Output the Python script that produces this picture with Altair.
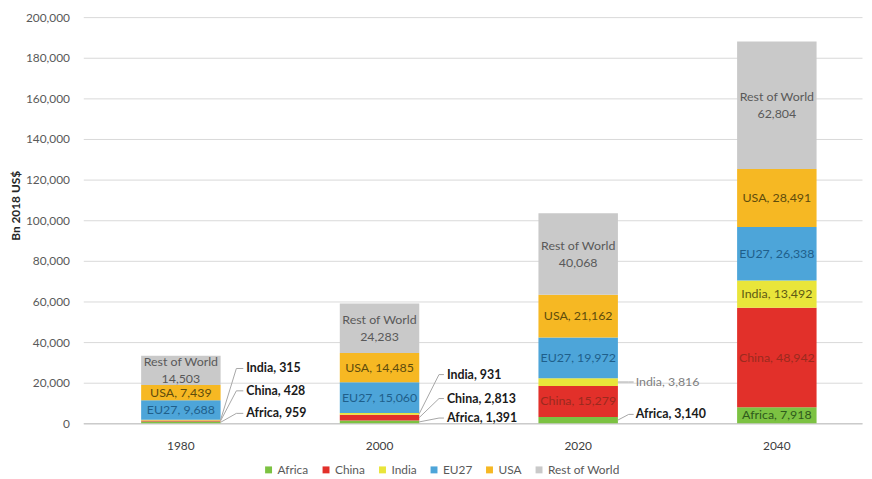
import altair as alt
import pandas as pd

# ---------------- data ----------------
years = ["1980", "2000", "2020", "2040"]
series = ["Africa", "China", "India", "EU27", "USA", "Rest of World"]
africa = [959, 1391, 3140, 7918]
china = [428, 2813, 15279, 48942]
india = [315, 931, 3816, 13492]
eu27 = [9688, 15060, 19972, 26338]
usa = [7439, 14485, 21162, 28491]
rest_of_world = [14503, 24283, 40068, 62804]
values = [africa, china, india, eu27, usa, rest_of_world]

y_ticks = list(range(0, 200001, 20000))

# segments labelled inside the bar; the rest get callouts
inside = {
    "1980": ["EU27", "USA", "Rest of World"],
    "2000": ["EU27", "USA", "Rest of World"],
    "2020": ["China", "EU27", "USA", "Rest of World"],
    "2040": series,
}
# callouts: (year, series, level of label in data units)
callouts = [
    ("1980", "India", 27000), ("1980", "China", 16000), ("1980", "Africa", 4900),
    ("2000", "India", 24000), ("2000", "China", 12200), ("2000", "Africa", 2600),
    ("2020", "India", None), ("2020", "Africa", 4400),
]

# ---------------- styles ----------------
bar_colors = ["#7CC242", "#E2302A", "#E9E53A", "#4DA5D9", "#F6B823", "#C9C9C9"]
text_colors = ["#2F5A1C", "#9A2A1E", "#5E5A14", "#1F5F8B", "#5E4C0C", "#595959"]
FONT = "Lato"
# per-year callout geometry in px from band centre: (diagonal end, horizontal end, label start)
callout_geom = {"1980": (56, 63, 66), "2000": (60, 65, 68), "2020": (51, 56, 58)}
HALF = 40

rows = []
for yi, yr in enumerate(years):
    start = 0
    for si, s in enumerate(series):
        v = values[si][yi]
        end = start + v
        if s == "Rest of World":
            lab = f"Rest of World\n{v:,}"
        else:
            lab = f"{s}, {v:,}"
        rows.append(dict(year=yr, series=s, order=si, value=v, start=start, end=end,
                         mid=(start + end) / 2, label=lab, tcolor=text_colors[si],
                         inside=s in inside[yr], row=(s == "Rest of World")))
        start = end
df = pd.DataFrame(rows)

crow = []
for yr, s, ly in callouts:
    r = df[(df.year == yr) & (df.series == s)].iloc[0]
    grey = (yr == "2020" and s == "India")
    crow.append(dict(year=yr, seg=r["mid"], ly=(r["mid"] if ly is None else ly),
                     text=f"{s}, {r['value']:,}",
                     color=("#7F7F7F" if grey else "#1A1A1A"),
                     bold=(not grey)))
dc = pd.DataFrame(crow)

xscale = alt.Scale(domain=years, paddingInner=0.6, paddingOuter=0.26, align=0.56)
yscale = alt.Scale(domain=[0, 200000], nice=False)
x_axis = alt.Axis(title=None, labelAngle=0, ticks=False, labelPadding=17,
                  labelColor="#404040", labelFontSize=12, labelFont=FONT,
                  domainColor="#BFBFBF", domainWidth=1)
y_axis = alt.Axis(title="Bn 2018 US$", values=y_ticks,
                  labelExpr="format(datum.value, ',')", ticks=False,
                  domain=False, labelPadding=14, labelColor="#595959",
                  labelFontSize=12, labelFont=FONT, gridColor="#D9D9D9",
                  titleFont=FONT, titleFontSize=12, titleFontWeight="bold",
                  titleColor="#262626", titlePadding=3, titleY=190)


def xpos(band=True):
    if band:
        return alt.X("year:N", sort=years, scale=xscale, axis=x_axis, bandPosition=0.5)
    return alt.X("year:N", sort=years, scale=xscale, axis=x_axis)


def ypos(field):
    return alt.Y(field, scale=yscale, axis=y_axis)


bars = alt.Chart(df).mark_bar().encode(
    x=xpos(False),
    y=ypos("start:Q"),
    y2="end:Q",
    color=alt.Color("series:N", sort=series,
                    scale=alt.Scale(domain=series, range=bar_colors),
                    legend=alt.Legend(title=None, orient="none", direction="horizontal",
                                      legendX=181, legendY=451, symbolType="square",
                                      symbolSize=49, symbolStrokeWidth=0,
                                      labelFontSize=12, labelFont=FONT,
                                      labelColor="#595959", columnPadding=11,
                                      labelOffset=3)),
)

texts = alt.Chart(df).transform_filter("datum.inside && !datum.row").mark_text(
    font=FONT, fontSize=12.5, baseline="middle"
).encode(
    x=xpos(), y=ypos("mid:Q"), text="label:N",
    color=alt.Color("tcolor:N", scale=None),
)
row_texts = alt.Chart(df).transform_filter("datum.row").mark_text(
    font=FONT, fontSize=12.5, baseline="middle", lineBreak="\n", lineHeight=17, dy=-8
).encode(
    x=xpos(), y=ypos("mid:Q"), text="label:N",
    color=alt.Color("tcolor:N", scale=None),
)

layers = [bars, texts, row_texts]
for yr, (d_end, h_end, lab) in callout_geom.items():
    sub = dc[dc.year == yr]
    diag = alt.Chart(sub).mark_rule(color="#A6A6A6", strokeWidth=1,
                                    xOffset=HALF, x2Offset=d_end).encode(
        x=xpos(), x2=alt.X2("year:N", bandPosition=0.5),
        y=ypos("seg:Q"), y2="ly:Q")
    horiz = alt.Chart(sub).mark_rule(color="#A6A6A6", strokeWidth=1,
                                     xOffset=d_end, x2Offset=h_end).encode(
        x=xpos(), x2=alt.X2("year:N", bandPosition=0.5),
        y=ypos("ly:Q"))
    layers += [diag, horiz]
    for is_bold in (True, False):
        part = sub[sub.bold == is_bold]
        if len(part) == 0:
            continue
        lbl = alt.Chart(part).mark_text(font=FONT, fontSize=12.5, align="left",
                                        baseline="middle", dx=lab,
                                        fontWeight=("bold" if is_bold else "normal")).encode(
            x=xpos(), y=ypos("ly:Q"), text="text:N",
            color=alt.Color("color:N", scale=None))
        layers.append(lbl)

chart = alt.layer(*layers).properties(
    width=786, height=410,
    autosize=alt.AutoSizeParams(type="none"),
    padding={"left": 76, "top": 7, "right": 2, "bottom": 56},
    background="white",
).configure_view(stroke=None)

chart.save("out.html", embed_options={"renderer": "svg", "actions": False})
